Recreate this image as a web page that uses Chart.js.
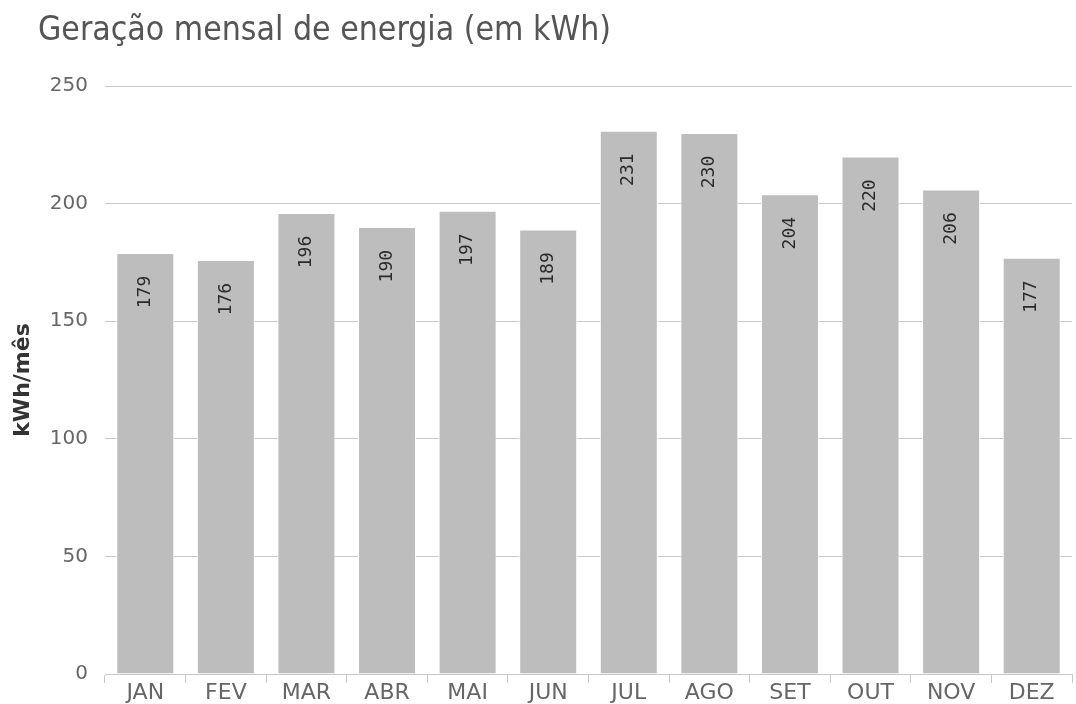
<!DOCTYPE html>
<html>
<head>
<meta charset="utf-8">
<script src="https://cdn.jsdelivr.net/npm/chart.js@4/dist/chart.umd.min.js"></script>
<style>
  body { margin: 0; background: #fff; }
  #wrap { position: relative; width: 1076px; height: 704px; }
  #titulo { position: absolute; left: 38px; top: 9px; margin: 0; font: normal 33.5px "DejaVu Sans Condensed", "DejaVu Sans", sans-serif; color: #555; line-height: 40px; white-space: nowrap; }
</style>
</head>
<body>
<div id="wrap">
  <h1 id="titulo">Geração mensal de energia (em kWh)</h1>
  <canvas id="grafico" width="1076" height="704"></canvas>
</div>
<script>
// dados do gráfico
const meses = ['JAN', 'FEV', 'MAR', 'ABR', 'MAI', 'JUN', 'JUL', 'AGO', 'SET', 'OUT', 'NOV', 'DEZ'];
const geracao = [179, 176, 196, 190, 197, 189, 231, 230, 204, 220, 206, 177];
const ticksY = [0, 50, 100, 150, 200, 250];

// rótulos girados dentro das barras
const rotulos = {
  id: 'rotulos',
  afterDatasetsDraw(chart) {
    const ctx = chart.ctx;
    const meta = chart.getDatasetMeta(0);
    ctx.save();
    ctx.font = '18px "DejaVu Sans Mono", monospace';
    ctx.fillStyle = '#2a2a2a';
    ctx.textAlign = 'center';
    ctx.textBaseline = 'middle';
    meta.data.forEach(function(barra, i) {
      ctx.save();
      ctx.translate(barra.x, barra.y + 39);
      ctx.rotate(-Math.PI / 2);
      ctx.fillText(String(geracao[i]), 0, 0);
      ctx.restore();
    });
    ctx.restore();
  }
};

new Chart(document.getElementById('grafico'), {
  type: 'bar',
  data: {
    labels: meses,
    datasets: [{
      data: geracao,
      backgroundColor: '#bdbdbd',
      borderColor: '#ffffff',
      borderWidth: 1,
      barPercentage: 0.72,
      categoryPercentage: 1
    }]
  },
  options: {
    responsive: false,
    animation: false,
    layout: { padding: { left: 0, right: 4, top: 86, bottom: 0 } },
    plugins: {
      legend: { display: false },
      tooltip: { enabled: false }
    },
    scales: {
      x: {
        offset: true,
        grid: { display: true, offset: true, drawOnChartArea: false, drawTicks: true, tickLength: 9, color: '#c8c8c8' },
        border: { display: true, color: '#c8c8c8' },
        ticks: { color: '#666', font: { family: 'DejaVu Sans', size: 22 }, padding: -3 },
        afterFit(scale) { scale.height = 30; }
      },
      y: {
        min: 0,
        max: 250,
        afterBuildTicks(scale) { scale.ticks = ticksY.map(v => ({ value: v })); },
        grid: { color: '#c8c8c8', drawTicks: false },
        border: { display: false },
        ticks: { color: '#666', font: { family: 'DejaVu Sans', size: 20 }, padding: 17 },
        title: { display: true, text: 'kWh/mês', color: '#333', font: { family: 'DejaVu Sans', size: 22, weight: 'bold' }, padding: { top: 10, bottom: 0 } },
        afterFit(scale) { scale.width = 105; }
      }
    }
  },
  plugins: [rotulos]
});
</script>
</body>
</html>
